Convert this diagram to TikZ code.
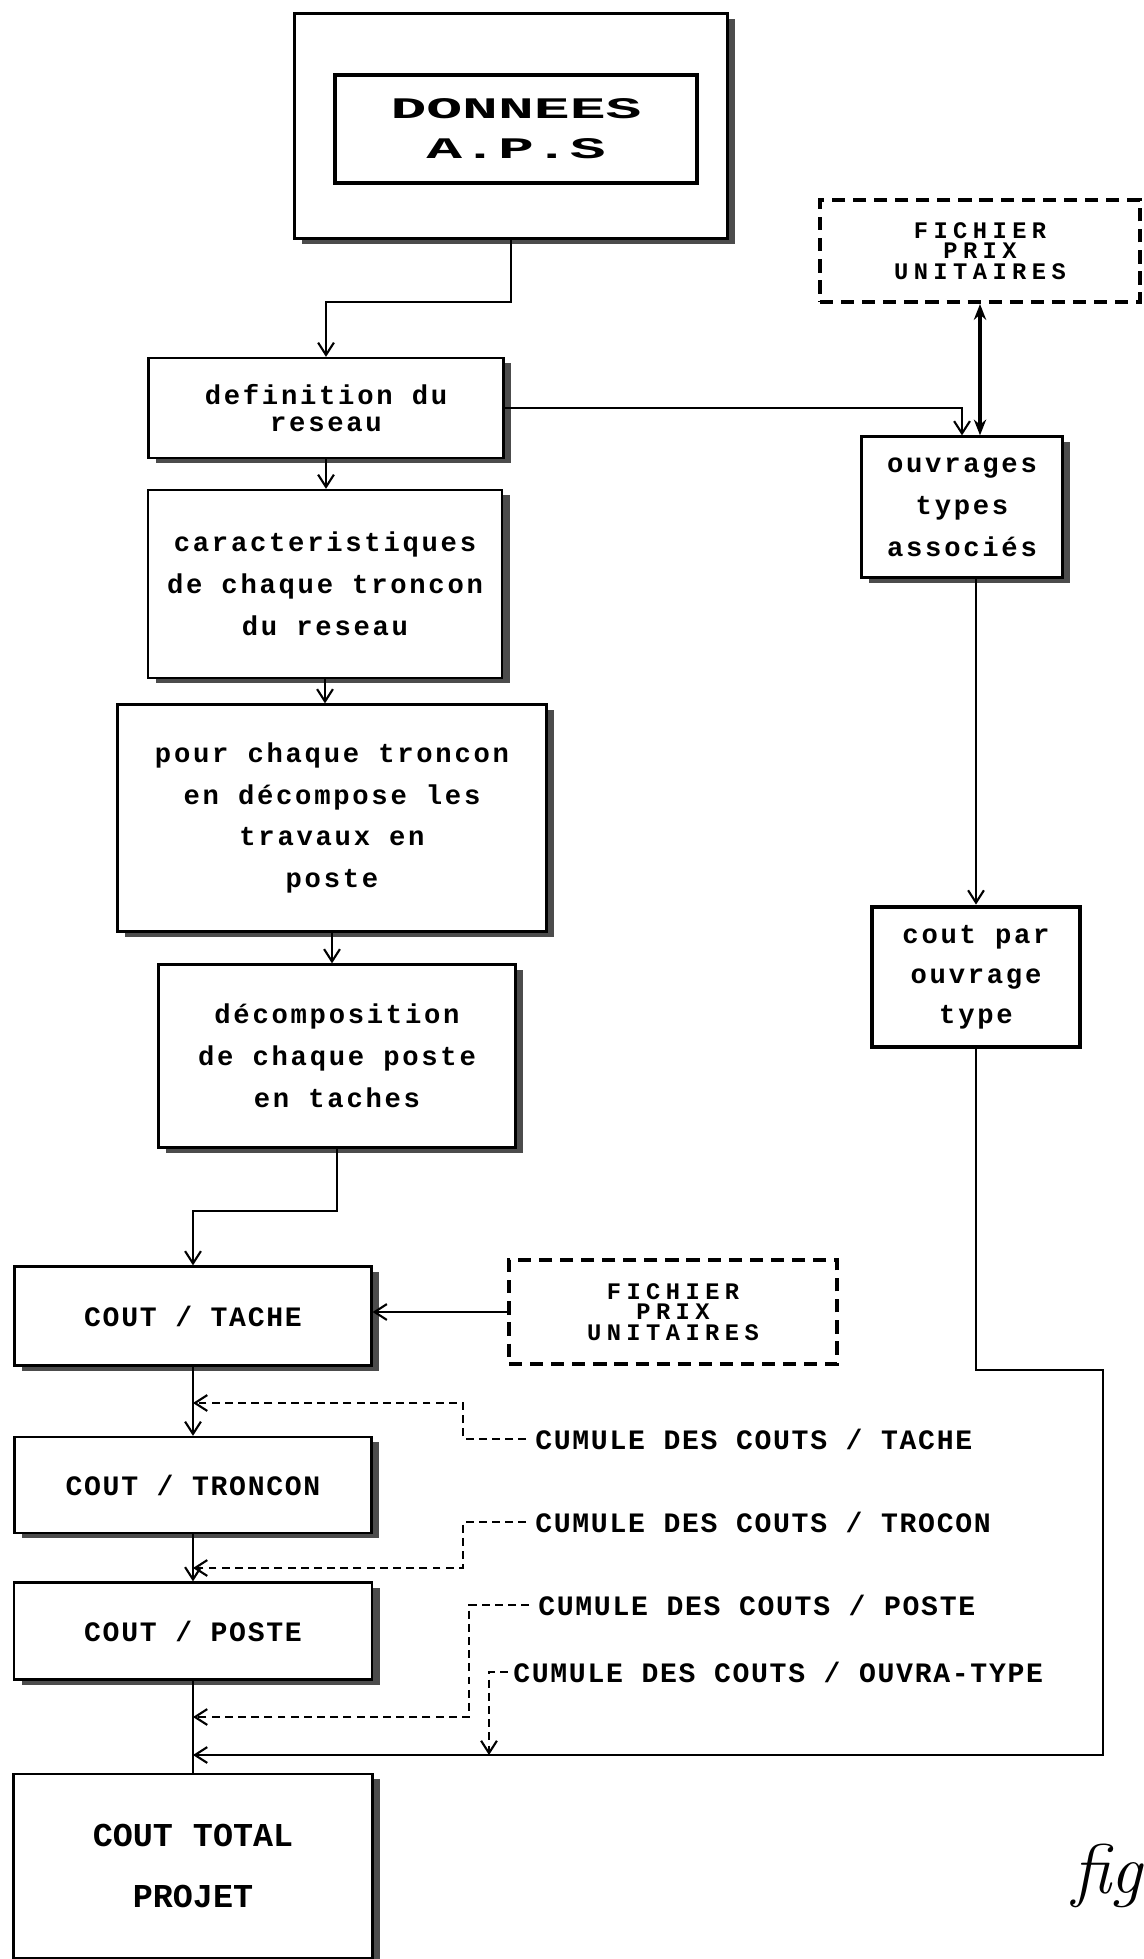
\documentclass[tikz,border=0pt]{standalone}
\usepackage{fontspec}
\usepackage{tikz}
\usetikzlibrary{arrows.meta, positioning, shadows, calc}
\newfontfamily\lowfont[LetterSpace=10]{Liberation Mono}
\newfontfamily\capfont[LetterSpace=6]{Liberation Mono}
\newfontfamily\filefont[LetterSpace=23]{Liberation Mono}
\newfontfamily\slabfont{Liberation Mono}

\begin{document}
\begin{tikzpicture}[x=0.02cm, y=-0.02cm,
    proc/.style={draw, line width=1.3pt, fill=white, align=center, inner sep=0pt,
                 drop shadow={shadow xshift=4.5pt, shadow yshift=-3pt, fill=black!70, opacity=1},
                 font=\lowfont\bfseries\fontsize{15.5pt}{23.8pt}\selectfont},
    cout/.style={proc, font=\capfont\bfseries\fontsize{16pt}{19pt}\selectfont},
    fichier/.style={draw, line width=2.3pt, dash pattern=on 7.5pt off 4.5pt, align=center,
                 fill=white, font=\filefont\bfseries\fontsize{13.5pt}{11.6pt}\selectfont},
    cumul/.style={anchor=west, inner sep=0pt, font=\capfont\bfseries\fontsize{16pt}{19pt}\selectfont},
    fleche/.style={-{Straight Barb[length=7pt, width=9pt]}, line width=1.2pt},
    pointille/.style={fleche, dash pattern=on 4.5pt off 3pt},
]
    \useasboundingbox (0,0) rectangle (1143,1959);

    % colonne de gauche
    \node[proc, minimum width=8.66cm, minimum height=4.5cm] (donnees) at (511,126) {};
    \node[draw, line width=2.3pt, fill=white, align=center, minimum width=7.26cm, minimum height=2.16cm,
          font=\slabfont\bfseries\fontsize{17pt}{22.7pt}\selectfont] (aps) at (516,129)
          {\scalebox{2}[1]{DONNEES}\\\scalebox{2}[1]{A.P.S}};
    \node[proc, minimum width=7.1cm, minimum height=2cm,
          font=\lowfont\bfseries\fontsize{15.5pt}{15.5pt}\selectfont] (reseau) at (326,408) {definition du\\reseau};
    \node[proc, minimum width=7.08cm, minimum height=3.76cm] (carac) at (325,584)
          {caracteristiques\\de chaque troncon\\du reseau};
    \node[proc, minimum width=8.58cm, minimum height=4.54cm] (troncon) at (332,818)
          {pour chaque troncon\\en décompose les\\travaux en\\poste};
    \node[proc, minimum width=7.14cm, minimum height=3.66cm] (postes) at (337,1056)
          {décomposition\\de chaque poste\\en taches};

    % colonne de droite
    \node[fichier, minimum width=6.4cm, minimum height=2.04cm] (prixA) at (980,251) {FICHIER\\PRIX\\UNITAIRES};
    \node[proc, minimum width=4.02cm, minimum height=2.82cm] (ouvrages) at (962,507) {ouvrages\\types\\associés};
    \node[draw, line width=2.8pt, fill=white, align=center, minimum width=4.16cm, minimum height=2.8cm,
          font=\lowfont\bfseries\fontsize{15.5pt}{22.7pt}\selectfont] (coutouv) at (976,977) {cout par\\ouvrage\\type};

    % couts
    \node[cout, minimum width=7.14cm, minimum height=1.98cm] (ctache) at (193,1316) {COUT / TACHE};
    \node[cout, minimum width=7.14cm, minimum height=1.92cm] (ctroncon) at (193,1485) {COUT / TRONCON};
    \node[cout, minimum width=7.16cm, minimum height=1.94cm] (cposte) at (193,1631) {COUT / POSTE};
    \node[proc, minimum width=7.18cm, minimum height=3.68cm,
          font=\slabfont\bfseries\fontsize{19pt}{35pt}\selectfont] (ctotal) at (193,1866) {COUT TOTAL\\PROJET};
    \node[fichier, minimum width=6.56cm, minimum height=2.08cm] (prixB) at (673,1312) {FICHIER\\PRIX\\UNITAIRES};

    \node[cumul] (cumT) at (535,1439) {CUMULE DES COUTS / TACHE};
    \node[cumul] (cumR) at (535,1522) {CUMULE DES COUTS / TROCON};
    \node[cumul] (cumP) at (538,1605) {CUMULE DES COUTS / POSTE};
    \node[cumul] (cumO) at (513,1672) {CUMULE DES COUTS / OUVRA-TYPE};

    \node[anchor=base west, font=\itshape\fontsize{40pt}{40pt}\selectfont] (fig) at (1066,1893) {fig};

    \coordinate (kT) at (463,1403);
    \coordinate (kR) at (463,1568);
    \coordinate (kP) at (469,1717);
    \coordinate (kO) at (489,1755);
    \coordinate (coude) at (1103,1370);
    \coordinate (jonction) at (193,1755);

    % liaisons
    \draw[fleche] (donnees.south) -- ++(0,62) -| (reseau.north);
    \draw[fleche] (reseau.south) -- (reseau.south |- carac.north);
    \draw[fleche] (carac.south) -- (carac.south |- troncon.north);
    \draw[fleche] (troncon.south) -- (troncon.south |- postes.north);
    \draw[fleche] (postes.south) -- ++(0,62) -| (ctache.north);
    \draw[fleche] (reseau.east) -| (ouvrages.north);
    \draw[{Stealth[length=9pt, width=7pt]}-{Stealth[length=9pt, width=7pt]}, line width=2.2pt]
          (prixA.south) -- (prixA.south |- ouvrages.north);
    \draw[fleche] (ouvrages.south -| coutouv.north) -- (coutouv.north);
    \draw[fleche] (coutouv.south) |- (coude) |- (jonction);
    \draw[fleche] (prixB.west) -- (prixB.west -| ctache.east);
    \draw[fleche] (ctache) -- (ctroncon);
    \draw[fleche] (ctroncon) -- (cposte);
    \draw[line width=1.2pt] (cposte) -- (ctotal);

    \draw[pointille] ([xshift=-5pt]cumT.west) -| (kT) -- (kT -| ctache.south);
    \draw[pointille] ([xshift=-5pt]cumR.west) -| (kR) -- (kR -| ctroncon.south);
    \draw[pointille] ([xshift=-5pt]cumP.west) -| (kP) -- (kP -| cposte.south);
    \draw[pointille] ([xshift=-3pt]cumO.west) -| (kO);
\end{tikzpicture}
\end{document}
